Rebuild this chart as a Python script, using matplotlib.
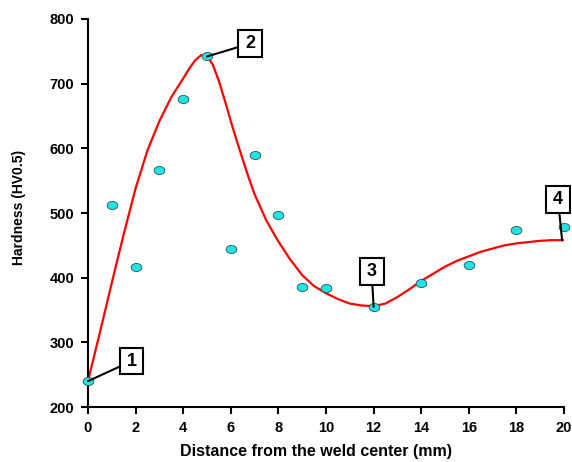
import numpy as np
import matplotlib
matplotlib.use("Agg")
import matplotlib.pyplot as plt
from matplotlib.path import Path

# measured hardness points
dist = [0, 1, 2, 3, 4, 5, 6, 7, 8, 9, 10, 12, 14, 16, 18, 20]
hard = [240, 512, 417, 566, 677, 742, 445, 590, 497, 386, 384, 355, 391, 420, 474, 479]

# fitted trend curve
fit_x = [0, 0.5, 1, 1.5, 2, 2.5, 3, 3.5, 4, 4.25, 4.5, 4.75, 5, 5.25, 5.5, 5.75,
         6, 6.25, 6.5, 6.75, 7, 7.5, 8, 8.5, 9, 9.5, 10, 10.5, 11, 11.5, 12, 12.5,
         13, 13.5, 14, 14.5, 15, 15.5, 16, 16.5, 17, 17.5, 18, 18.5, 19, 19.5, 20]
fit_y = [240, 315, 392, 467, 538, 597, 642, 679, 708, 723, 736, 744, 743, 729, 704, 674,
         642, 612, 583, 555, 529, 488, 456, 428, 404, 387, 376, 367, 360, 357, 356, 360,
         370, 382, 395, 406, 417, 426, 433, 440, 445, 450, 453, 455, 457, 458, 458]

# numbered labels: text, point, box position
labels = ["1", "2", "3", "4"]
label_pts = [(0, 240), (5, 742), (12, 355), (19.92, 458)]
label_box = [(1.83, 271), (6.81, 762), (11.92, 409), (19.75, 521)]


def num_box(x0, y0, width, height, mutation_size):
    # near-square frame round a single digit
    px = 0.38 * mutation_size
    py = 0.27 * mutation_size
    return Path([(x0 - px, y0 - py), (x0 + width + px, y0 - py),
                 (x0 + width + px, y0 + height + py), (x0 - px, y0 + height + py),
                 (x0 - px, y0 - py)], closed=True)


fig = plt.figure(figsize=(5.72, 4.62), dpi=100)
ax = fig.add_axes([0.1538, 0.119, 0.8322, 0.8399])

ax.plot(fit_x, fit_y, color="red", lw=1.6, zorder=2, solid_joinstyle="round")

t = np.linspace(0, 2 * np.pi, 40)
ell = Path(np.column_stack([np.cos(t), 0.75 * np.sin(t)]))
ax.scatter(dist, hard, marker=ell, s=60, c="#1fe3e3", edgecolors="#2f4f4f",
           linewidths=0.6, zorder=3, clip_on=False)

for lab, pt, bx in zip(labels, label_pts, label_box):
    ax.annotate(lab, xy=pt, xytext=bx, ha="center", va="center",
                fontsize=13, fontweight="bold", family="Liberation Sans",
                bbox=dict(boxstyle=num_box, fc="white", ec="black", lw=1.5),
                arrowprops=dict(arrowstyle="-", color="black", lw=1.5,
                                shrinkA=0, shrinkB=0),
                zorder=4, annotation_clip=False)

ax.set_xlim(0, 20)
ax.set_ylim(200, 800)
ax.set_xticks(np.arange(0, 21, 2))
ax.set_yticks(np.arange(200, 801, 100))
for s in ["top", "right"]:
    ax.spines[s].set_visible(False)
for s in ["left", "bottom"]:
    ax.spines[s].set_linewidth(1.5)
ax.tick_params(width=1.5, length=5, direction="out", pad=5)
for lbl in ax.get_xticklabels() + ax.get_yticklabels():
    lbl.set_fontfamily("Liberation Sans")
    lbl.set_fontweight("bold")
    lbl.set_fontsize(10.5)

ax.set_xlabel("Distance from the weld center (mm)", fontsize=11.5, fontweight="bold",
              family="Liberation Sans")
ax.set_ylabel("Hardness (HV0.5)", fontsize=10, fontweight="bold",
              family="Liberation Sans")
ax.xaxis.set_label_coords(0.479, -0.095)
ax.yaxis.set_label_coords(-0.13, 0.515)

fig.savefig("out.png", dpi=100)
